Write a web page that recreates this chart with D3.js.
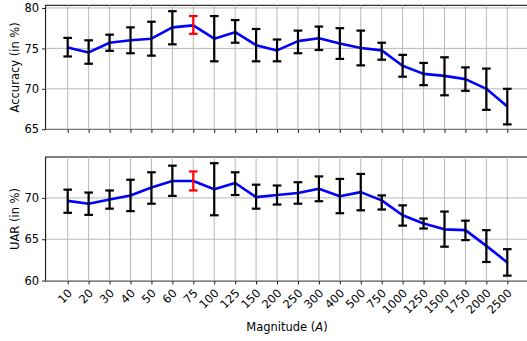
<!DOCTYPE html>
<html><head><meta charset="utf-8">
<script src="https://cdn.jsdelivr.net/npm/d3@7"></script>
<style>body{margin:0;background:#fff}svg{display:block;font-family:"DejaVu Sans",sans-serif}</style>
</head><body>
<svg id="c" width="527" height="341"></svg>
<script>
const categories = ["10","20","30","40","50","60","75","100","125","150","200","250","300","400","500","750","1000","1250","1500","1750","2000","2500"];
const accMean = [75.1,74.5,75.7,76.0,76.2,77.6,77.85,76.2,77.0,75.4,74.75,75.9,76.25,75.6,75.05,74.75,72.85,71.85,71.6,71.2,70.0,67.8];
const accHigh = [76.3,76.0,76.7,77.6,78.3,79.6,79.0,79.0,78.5,77.4,76.1,77.2,77.7,77.5,77.2,75.7,74.2,73.2,73.9,72.65,72.5,70.0];
const accLow  = [74.0,73.1,74.7,74.4,74.1,75.5,76.8,73.4,75.7,73.4,73.4,74.4,74.8,73.7,72.9,73.6,71.5,70.45,69.2,69.75,67.4,65.6];
const uarMean = [69.64,69.3,69.8,70.3,71.25,72.05,72.05,71.05,71.8,70.1,70.35,70.6,71.1,70.2,70.7,69.7,67.9,66.9,66.2,66.1,64.2,62.2];
const uarHigh = [71.0,70.65,70.9,72.2,73.1,73.9,73.2,74.2,73.1,71.6,71.5,71.9,72.6,72.3,72.9,70.3,69.1,67.5,68.35,67.25,66.1,63.8];
const uarLow  = [68.2,67.95,68.7,68.4,69.3,70.25,70.9,67.9,70.35,68.7,69.2,69.3,69.6,68.15,68.5,68.6,66.65,66.3,64.1,64.9,62.25,60.6];
const accTicks = [65,70,75,80];
const uarTicks = [60,65,70];
const bestIndex = 6;

const svg = d3.select("#c");
const axLeft = 45.6, axRight = 529.3;
const x = d3.scalePoint().domain(categories).range([67.7, 507.3]);

function panel(yDomain, yRange, ticks, mean, lo, hi, label, showX) {
  const y = d3.scaleLinear().domain(yDomain).range(yRange);
  const g = svg.append("g");
  const top = yRange[1], bot = yRange[0];
  // spines
  g.append("rect").attr("x", axLeft).attr("y", top).attr("width", axRight-axLeft).attr("height", bot-top)
    .attr("fill","none").attr("stroke","#000").attr("stroke-width",1);
  // grid
  g.selectAll(".gx").data(categories).enter().append("line")
    .attr("x1", d=>x(d)).attr("x2", d=>x(d)).attr("y1", top).attr("y2", bot)
    .attr("stroke","#b0b0b0").attr("stroke-width",0.9);
  g.selectAll(".gy").data(ticks).enter().append("line")
    .attr("x1", axLeft).attr("x2", axRight).attr("y1", d=>y(d)).attr("y2", d=>y(d))
    .attr("stroke","#b0b0b0").attr("stroke-width",0.9);
  // y axis
  const ya = d3.axisLeft(y).tickValues(ticks).tickSize(3.5).tickPadding(3).tickFormat(d3.format("d"));
  const yg = g.append("g").attr("transform",`translate(${axLeft},0)`).call(ya);
  yg.select(".domain").remove();
  yg.selectAll("text").attr("font-size","11.5px").attr("fill","#000").attr("font-family","DejaVu Sans");
  yg.selectAll("line").attr("stroke","#000").attr("stroke-width",0.9);
  // x axis
  const xa = d3.axisBottom(x).tickSize(3.5).tickPadding(3);
  const xg = g.append("g").attr("transform",`translate(0,${bot})`).call(xa);
  xg.select(".domain").remove();
  xg.selectAll("line").attr("stroke","#000").attr("stroke-width",0.9);
  if (showX) {
    xg.selectAll("text").attr("font-size","11.5px").attr("fill","#000").attr("font-family","DejaVu Sans")
      .attr("text-anchor","end").attr("dy","0.35em")
      .attr("transform", "translate(2,10) rotate(-45)");
    xg.selectAll("text").attr("y",0).attr("x",0);
  } else {
    xg.selectAll("text").remove();
  }
  // line
  const line = d3.line().x((d,i)=>x(categories[i])).y(d=>y(d));
  g.append("path").datum(mean).attr("d", line).attr("fill","none").attr("stroke","#0000ff").attr("stroke-width",2.6).attr("stroke-linejoin","round");
  // error bars
  const eb = g.selectAll(".eb").data(categories).enter().append("g")
    .attr("stroke", (d,i)=> i===bestIndex ? "#ff0000" : "#000").attr("stroke-width",2.2);
  eb.append("line").attr("x1",d=>x(d)).attr("x2",d=>x(d)).attr("y1",(d,i)=>y(lo[i])).attr("y2",(d,i)=>y(hi[i]));
  eb.append("line").attr("x1",d=>x(d)-4.3).attr("x2",d=>x(d)+4.3).attr("y1",(d,i)=>y(lo[i])).attr("y2",(d,i)=>y(lo[i]));
  eb.append("line").attr("x1",d=>x(d)-4.3).attr("x2",d=>x(d)+4.3).attr("y1",(d,i)=>y(hi[i])).attr("y2",(d,i)=>y(hi[i]));
  // y label
  g.append("text").attr("transform",`translate(19,${(top+bot)/2}) rotate(-90)`)
    .attr("text-anchor","middle").attr("font-size","11.5px").attr("fill","#000").text(label);
  return g;
}

panel([64.98, 80.33], [129.4, 5.3], accTicks, accMean, accLow, accHigh, "Accuracy (in %)", false);
panel([59.95, 74.95], [281, 157], uarTicks, uarMean, uarLow, uarHigh, "UAR (in %)", true);

const xl = svg.append("text").attr("x", 287).attr("y", 331).attr("text-anchor","middle")
  .attr("font-size","11.5px").attr("fill","#000");
xl.append("tspan").text("Magnitude (");
xl.append("tspan").attr("font-style","italic").text("A");
xl.append("tspan").text(")");
</script>
</body></html>
